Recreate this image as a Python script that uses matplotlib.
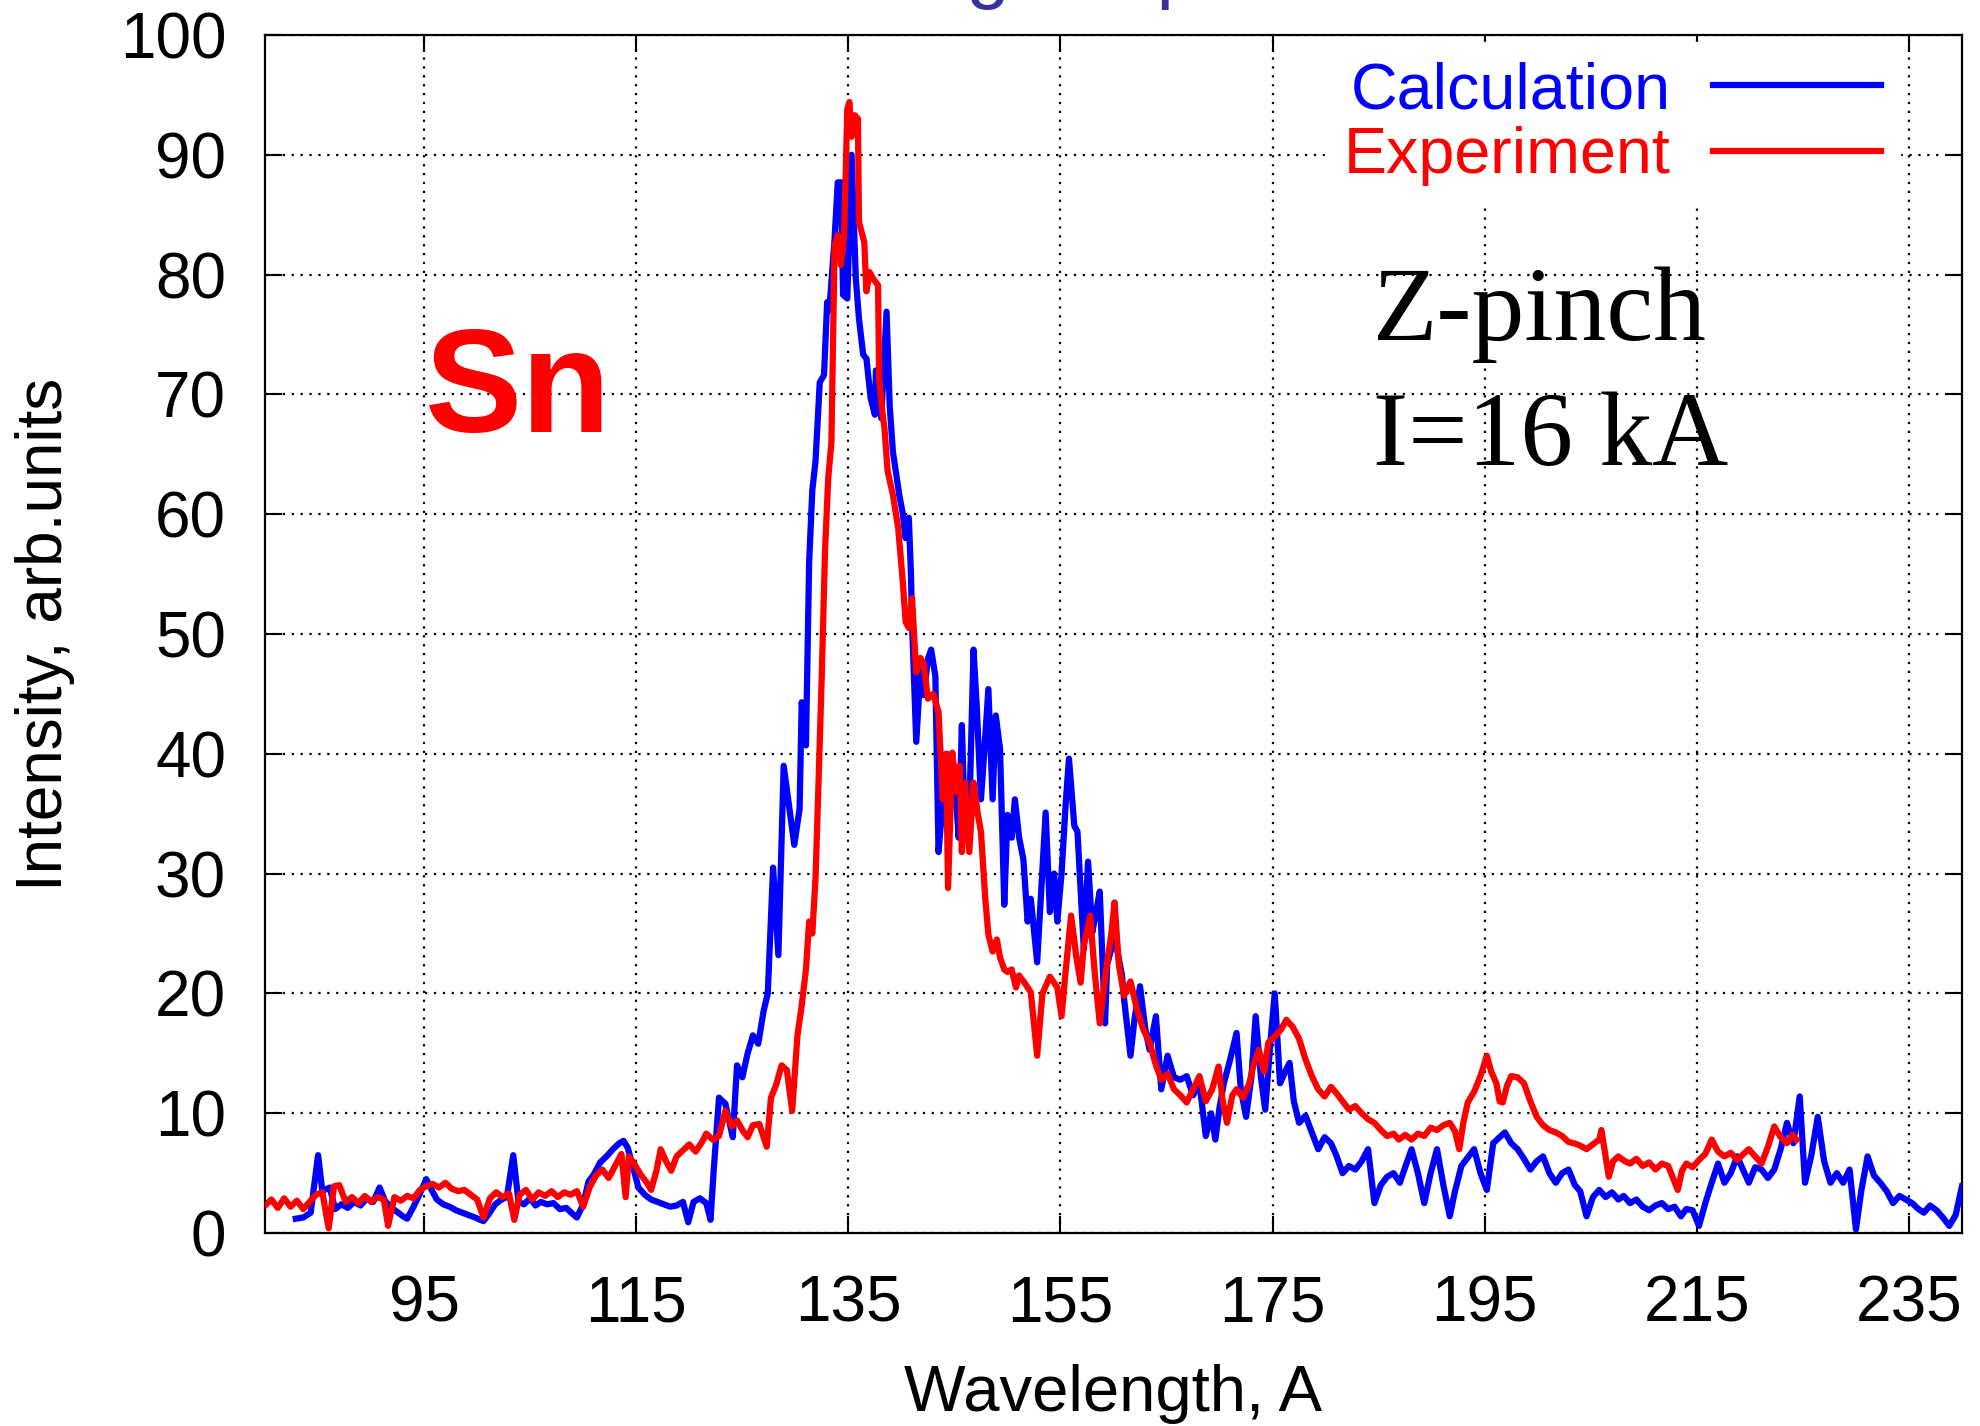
import numpy as np
import matplotlib
matplotlib.use('Agg')
import matplotlib.pyplot as plt

# Experiment (red) : wavelength, intensity
exp_wl = [80.0, 80.6, 81.2, 81.8, 82.4, 83.0, 83.6, 84.2, 84.8, 85.4, 86.0, 86.5, 87.0, 87.6, 88.2, 88.8,
          89.4, 90.0, 90.6, 91.2, 91.6, 92.2, 92.8, 93.4, 94.0, 94.6, 95.2, 95.8, 96.4, 97.0, 97.6, 98.2,
          98.8, 99.4, 100.0, 100.6, 101.2, 101.8, 102.4, 103.0, 103.5, 104.0, 104.6, 105.2, 105.8, 106.4,
          107.0, 107.6, 108.2, 108.8, 109.4, 110.0, 110.6, 111.2, 111.8, 112.4, 113.0, 113.6, 114.0, 114.3,
          114.8, 115.4, 116.0, 116.4, 116.9, 117.3, 117.8, 118.3, 118.8, 119.4, 120.0, 120.6, 121.2, 121.6,
          122.2, 122.8, 123.4, 124.0, 124.5, 125.0, 125.5, 126.0, 126.6, 127.3, 127.7, 128.2, 128.7, 129.2,
          129.7, 130.2, 130.6, 131.0, 131.3, 131.6, 131.9, 132.2, 132.5, 132.8, 133.1, 133.4, 133.7, 134.0,
          134.3, 134.6, 134.9, 135.1, 135.3, 135.6, 135.9, 136.0, 136.5, 136.7, 137.0, 137.3, 137.8, 137.9,
          138.2, 138.4, 138.7, 139.2, 139.7, 140.1, 140.4, 140.7, 141.0, 141.4, 141.8, 142.1, 142.5, 143.0,
          143.5, 143.9, 144.2, 144.4, 144.8, 145.2, 145.5, 145.7, 146.0, 146.4, 146.8, 147.2, 147.5, 147.9,
          148.2, 148.6, 149.0, 149.3, 149.7, 150.0, 150.4, 150.8, 151.1, 151.6, 152.2, 152.8, 153.3, 154.0,
          154.7, 155.1, 155.5, 156.0, 156.5, 156.9, 157.2, 157.8, 158.2, 158.7, 159.3, 159.8, 160.1, 160.5,
          161.0, 161.6, 162.2, 162.8, 163.4, 164.0, 164.5, 165.1, 165.7, 166.3, 166.9, 167.5, 168.1, 168.7,
          169.3, 169.9, 170.3, 170.7, 171.2, 171.6, 172.2, 172.8, 173.2, 173.7, 174.2, 174.6, 175.2, 175.8,
          176.3, 176.9, 177.5, 178.1, 178.7, 179.3, 179.9, 180.5, 181.0, 181.6, 182.2, 182.8, 183.4, 184.0,
          184.6, 185.2, 185.8, 186.4, 186.9, 187.5, 188.1, 188.7, 189.3, 189.9, 190.5, 191.1, 191.7, 192.2,
          192.6, 193.0, 193.4, 194.0, 194.6, 195.2, 195.6, 196.1, 196.4, 196.7, 197.1, 197.5, 198.1, 198.7,
          199.3, 199.9, 200.5, 201.1, 201.7, 202.3, 202.9, 203.4, 204.0, 204.6, 205.2, 205.8, 206.0, 206.7,
          207.1, 207.6, 208.2, 208.7, 209.3, 209.9, 210.5, 211.1, 211.7, 212.3, 213.2, 213.6, 214.0, 214.6,
          215.2, 215.8, 216.4, 217.0, 217.6, 218.2, 218.8, 219.4, 219.9, 220.5, 221.1, 221.7, 222.3, 222.9,
          223.5, 224.0, 224.4]
exp_int = [2.3, 2.8, 2.1, 2.9, 2.2, 2.7, 2.0, 2.6, 3.2, 3.4, 0.4, 3.9, 4.0, 2.6, 3.0, 2.5,
           3.1, 2.6, 3.0, 2.8, 0.6, 3.0, 2.7, 3.1, 2.9, 3.6, 3.9, 4.1, 3.8, 4.2, 3.7, 3.5,
           3.6, 3.2, 2.8, 1.3, 2.9, 3.4, 3.0, 3.3, 1.1, 3.2, 3.6, 2.8, 3.4, 3.1,
           3.5, 3.0, 3.4, 3.2, 3.5, 2.2, 3.8, 4.8, 5.3, 4.6, 5.6, 6.6, 3.0, 6.4,
           5.8, 4.9, 4.2, 3.6, 5.2, 7.0, 6.0, 5.2, 6.4, 6.9, 7.4, 6.8, 7.6, 8.3,
           7.8, 8.1, 10.2, 8.9, 9.4, 8.6, 8.0, 9.0, 9.1, 7.2, 11.3, 12.4, 14.0, 13.6,
           10.2, 16.5, 19.0, 22.0, 26.0, 25.0, 29.6, 38.0, 46.8, 57.0, 63.0, 66.0, 82.4, 83.3,
           80.8, 83.3, 93.8, 94.4, 91.5, 93.3, 93.0, 84.4, 82.7, 78.6, 80.2, 79.7, 79.1, 71.3,
           68.6, 67.2, 63.6, 61.6, 58.8, 54.7, 51.0, 50.5, 53.0, 46.8, 48.0, 47.5, 44.6, 45.0,
           43.5, 36.2, 40.0, 28.8, 40.1, 36.8, 39.0, 31.8, 37.6, 31.8, 37.6, 35.0, 33.5, 28.0,
           24.9, 23.5, 24.5, 23.0, 22.0, 21.8, 22.0, 20.5, 21.5, 20.9, 20.1, 14.8, 20.0, 21.4,
           20.5, 18.1, 22.0, 26.5, 23.0, 20.9, 24.0, 26.5, 22.0, 17.5, 22.0, 25.0, 27.6, 22.4,
           19.8, 21.0, 18.7, 17.0, 15.9, 14.0, 12.8, 13.3, 12.0, 11.5, 10.9, 12.0, 13.1, 11.0,
           12.0, 13.9, 11.0, 9.2, 11.5, 12.0, 11.3, 12.5, 14.0, 15.3, 13.5, 15.9, 16.4, 17.0,
           17.8, 17.2, 16.2, 14.5, 13.1, 12.0, 11.4, 12.2, 11.7, 11.0, 10.3, 10.6, 10.0, 9.5,
           9.2, 8.6, 8.1, 8.3, 7.8, 8.2, 7.8, 8.3, 8.1, 8.8, 8.6, 9.0, 9.2, 8.5,
           7.0, 9.3, 10.9, 11.8, 13.1, 14.8, 13.5, 12.5, 11.0, 10.9, 12.3, 13.1, 13.0, 12.5,
           11.0, 9.7, 9.0, 8.6, 8.4, 8.1, 7.6, 7.5, 7.3, 7.0, 7.4, 7.8, 8.6, 4.7,
           6.0, 6.4, 6.0, 5.8, 6.2, 5.6, 5.9, 5.3, 5.8, 5.6, 3.6, 5.2, 5.8, 5.5,
           6.1, 6.6, 7.8, 6.8, 6.4, 6.7, 6.1, 6.6, 7.0, 6.4, 5.8, 7.2, 8.9, 8.0,
           7.5, 8.2, 7.8]

# Calculation (blue)
calc_wl = [82.9, 83.6, 84.3, 85.0, 85.4, 86.1, 86.6, 87.2, 87.8, 88.4, 89.0, 89.6, 90.2, 90.8, 91.3, 91.8,
           92.4, 93.0, 93.4, 94.0, 94.5, 95.2, 95.7, 96.2, 96.8, 97.4, 98.0, 98.6, 99.2, 99.8, 100.3, 100.6,
           101.1, 101.7, 102.3, 102.8, 103.4, 103.9, 104.4, 105.0, 105.5, 106.0, 106.6, 107.2, 107.8, 108.4,
           109.0, 109.4, 110.0, 110.5, 111.0, 111.6, 112.2, 112.8, 113.4, 113.8, 114.2, 114.7, 115.2, 115.8,
           116.4, 117.0, 117.6, 118.2, 118.8, 119.4, 119.9, 120.4, 121.0, 121.6, 122.0, 122.3, 122.8, 123.4,
           124.1, 124.5, 125.0, 125.5, 126.0, 126.5, 127.0, 127.4, 127.9, 128.4, 128.9, 129.5, 129.9, 130.4,
           130.6, 131.0, 131.3, 131.6, 131.9, 132.3, 132.7, 133.0, 133.2, 133.7, 134.0, 134.3, 134.5, 134.9,
           135.3, 135.7, 136.0, 136.4, 136.7, 137.1, 137.5, 137.6, 138.1, 138.6, 138.9, 139.2, 139.8, 140.1,
           140.4, 140.7, 140.9, 141.0, 141.4, 141.8, 142.1, 142.5, 142.8, 143.2, 143.5, 143.9, 144.3, 144.6,
           145.0, 145.4, 145.7, 146.0, 146.4, 146.8, 147.1, 147.5, 147.8, 148.2, 148.6, 148.9, 149.3, 149.7,
           150.0, 150.4, 150.7, 151.1, 151.5, 151.9, 152.2, 152.8, 153.6, 154.0, 154.4, 154.7, 155.1, 155.5,
           155.8, 156.3, 156.6, 157.2, 157.6, 158.0, 158.4, 158.7, 159.2, 159.4, 160.1, 160.8, 161.0, 161.6,
           162.0, 162.5, 163.0, 163.4, 164.0, 164.5, 165.1, 165.7, 166.3, 166.9, 167.5, 168.1, 168.7, 169.2,
           169.6, 170.0, 170.4, 171.0, 171.6, 172.0, 172.5, 173.0, 173.4, 173.9, 174.3, 174.8, 175.2, 175.7,
           176.2, 176.6, 177.0, 177.5, 178.1, 178.7, 179.3, 179.9, 180.5, 181.0, 181.6, 182.2, 182.8, 183.4,
           184.0, 184.6, 185.2, 185.8, 186.4, 187.0, 187.5, 188.1, 188.7, 189.3, 189.9, 190.5, 191.1, 191.7,
           192.2, 192.8, 193.4, 194.0, 194.6, 195.2, 195.8, 196.4, 196.9, 197.5, 198.1, 198.7, 199.3, 199.9,
           200.5, 201.1, 201.7, 202.3, 202.9, 203.5, 204.0, 204.6, 205.2, 205.8, 206.4, 207.0, 207.6, 208.1,
           208.7, 209.3, 209.9, 210.5, 211.1, 211.7, 212.3, 212.9, 213.5, 214.0, 214.6, 215.2, 215.8, 216.4,
           217.0, 217.6, 218.2, 218.8, 219.4, 219.9, 220.5, 221.1, 221.7, 222.3, 222.9, 223.5, 224.1, 224.7,
           225.2, 225.8, 226.4, 227.0, 227.6, 228.2, 228.8, 229.4, 230.0, 230.5, 231.1, 231.7, 232.3, 232.9,
           233.5, 234.1, 234.7, 235.3, 235.9, 236.4, 237.0, 237.6, 238.2, 238.8, 239.4, 240.0]
calc_int = [1.2, 1.3, 1.7, 6.5, 3.5, 3.8, 2.0, 2.4, 2.1, 2.6, 2.3, 2.9, 2.6, 3.8, 2.7, 2.2,
            1.8, 1.4, 1.2, 2.2, 3.1, 4.5, 3.6, 2.8, 2.4, 2.2, 1.9, 1.7, 1.5, 1.3, 1.1, 1.0,
            1.6, 2.4, 2.8, 3.0, 6.5, 2.6, 2.4, 2.9, 2.3, 2.6, 2.4, 2.5, 2.0, 2.1,
            1.6, 1.3, 2.4, 4.3, 4.9, 5.9, 6.4, 7.0, 7.5, 7.7, 7.1, 5.5, 3.8, 3.2,
            2.8, 2.6, 2.4, 2.2, 2.3, 2.6, 0.9, 2.6, 2.9, 2.5, 1.1, 5.2, 11.3, 10.8,
            8.0, 14.0, 13.0, 15.0, 16.5, 15.8, 18.5, 20.0, 30.5, 23.2, 39.0, 35.0, 32.4, 35.4,
            44.3, 40.7, 56.0, 62.0, 64.4, 71.0, 71.6, 77.7, 77.0, 83.0, 87.7, 87.7, 78.3, 78.0,
            90.0, 79.7, 76.3, 73.3, 73.0, 69.7, 68.3, 72.0, 68.0, 76.9, 69.0, 65.2, 61.6, 60.2,
            58.0, 59.7, 55.0, 51.0, 41.0, 47.0, 44.9, 47.9, 48.7, 46.5, 31.8, 36.0, 40.0, 37.0,
            38.2, 33.0, 42.4, 33.5, 35.0, 48.7, 44.0, 36.2, 40.0, 45.4, 36.2, 43.2, 40.4, 27.4,
            34.9, 33.0, 36.2, 33.0, 31.2, 26.0, 27.9, 22.6, 35.1, 26.8, 30.0, 26.0, 30.0, 36.0,
            39.6, 34.0, 33.5, 23.7, 31.0, 25.1, 27.0, 28.5, 17.5, 22.4, 24.8, 21.5, 19.5, 14.8,
            18.0, 20.6, 17.0, 15.3, 18.1, 12.0, 14.8, 13.0, 12.8, 13.1, 11.5, 12.5, 8.1, 10.0,
            7.8, 10.5, 12.5, 14.5, 16.7, 12.0, 9.7, 13.0, 18.1, 13.0, 10.3, 16.0, 20.0, 12.5,
            13.5, 14.2, 11.0, 9.2, 9.8, 8.4, 7.0, 8.0, 7.5, 6.5, 5.0, 5.6, 5.3, 6.0,
            7.0, 2.5, 4.0, 4.7, 5.0, 4.2, 5.5, 7.0, 5.0, 2.5, 5.0, 7.0, 4.0, 1.4,
            3.5, 5.6, 6.3, 7.0, 5.0, 3.6, 7.5, 8.0, 8.4, 7.5, 7.0, 6.2, 5.3, 6.0,
            6.4, 5.0, 4.2, 5.0, 5.3, 4.0, 3.5, 1.4, 3.0, 3.6, 3.0, 3.4, 2.8, 3.1,
            2.5, 2.8, 2.2, 1.9, 2.3, 2.5, 2.0, 2.2, 1.4, 2.0, 1.9, 0.6, 2.5, 4.2,
            5.8, 4.2, 5.0, 6.4, 5.2, 4.2, 5.5, 5.3, 4.6, 5.3, 7.0, 9.2, 7.5, 11.4,
            4.2, 6.5, 9.7, 6.0, 4.2, 5.0, 4.2, 5.3, 0.3, 3.5, 6.4, 4.8, 4.2, 3.5,
            2.5, 3.1, 2.8, 2.5, 2.0, 1.7, 2.3, 1.9, 1.3, 0.6, 1.5, 3.9]

x_ticks = [95, 115, 135, 155, 175, 195, 215, 235]
y_ticks = [0, 10, 20, 30, 40, 50, 60, 70, 80, 90, 100]

plt.rcParams['font.family'] = ['Liberation Sans', 'DejaVu Sans']

fig = plt.figure(figsize=(19.81, 14.26), dpi=100)
ax = fig.add_axes([0.1338, 0.1353, 0.8566, 0.8402])

ax.plot(calc_wl, calc_int, color='#0000ff', lw=4.5, label='Calculation', zorder=3)
ax.plot(exp_wl, exp_int, color='#ff0000', lw=4.5, label='Experiment', zorder=4)

ax.set_xlim(80, 240)
ax.set_ylim(0, 100)
ax.set_xticks(x_ticks)
ax.set_yticks(y_ticks)
ax.tick_params(direction='in', length=12, width=1.5, top=True, right=True,
               labelsize=46, pad=30)
ax.tick_params(axis='y', pad=28)
ax.grid(True, color='black', linestyle=(0, (1, 3)), linewidth=1.6, zorder=1)
for s in ax.spines.values():
    s.set_linewidth(1.6)

ax.set_xlabel('Wavelength, A', fontsize=47, labelpad=21)
ax.set_ylabel('Intensity, arb.units', fontsize=46, labelpad=32)

leg = ax.legend(loc='upper right', bbox_to_anchor=(0.9864, 1.0267), markerfirst=False,
                fontsize=46.5, labelcolor='linecolor',
                frameon=True, fancybox=False, framealpha=1, facecolor='white', edgecolor='white',
                handlelength=2.6, handletextpad=0.65, labelspacing=0.08, borderpad=0.3,
                borderaxespad=0.6)
for ln in leg.get_lines():
    ln.set_linewidth(4.5)
leg.set_zorder(5)

ax.text(0.094, 0.669, 'Sn', transform=ax.transAxes, fontsize=105, fontweight='bold',
        color='#ff0000', va='baseline', ha='left', zorder=6)
ax.text(0.653, 0.745, 'Z-pinch', transform=ax.transAxes, fontsize=76,
        family='Liberation Serif', va='baseline', ha='left', zorder=6)
ax.text(0.653, 0.641, 'I=16 kA', transform=ax.transAxes, fontsize=76,
        family='Liberation Serif', va='baseline', ha='left', zorder=6)

# title mostly cut off at the top edge, only descenders visible
fig.text(0.574, 1.0042, 'Integral spectrum', fontsize=56, color='#333399',
         ha='center', va='baseline')

fig.savefig('out.png', dpi=100)
